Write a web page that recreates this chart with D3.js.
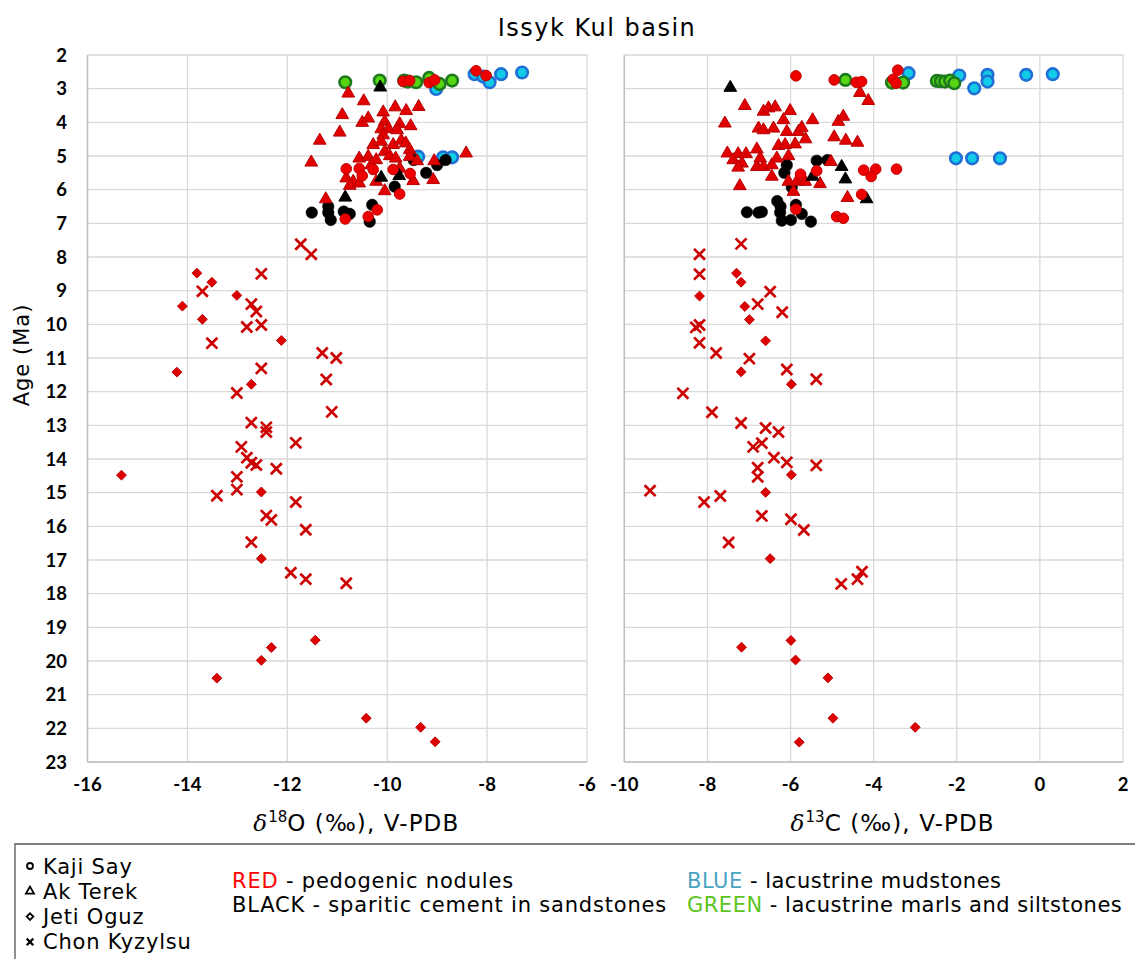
<!DOCTYPE html>
<html lang="en">
<head>
<meta charset="UTF-8" />
<title>Issyk Kul basin</title>
<script src="https://d3js.org/d3.v7.min.js"></script>
<style>
  body { margin: 0; background: #fff; }
  svg { display: block; }
  .tick-lbl { font-family: Lato, "Liberation Sans", sans-serif; font-weight: bold; font-size: 18.5px; fill: #000; }
  .lbl { font-family: "DejaVu Sans", Verdana, sans-serif; fill: #000; }
</style>
</head>
<body>
<svg width="1135" height="959"></svg>
<script>
// ---- data: [value, age (Ma)] ----
// delta 18O panel
const o18Blue = [[-9.02,3.01],[-8.25,2.57],[-8.08,2.64],[-7.95,2.81],[-7.72,2.57],[-7.30,2.52],[-9.38,5.02],[-8.88,5.04],[-8.70,5.04]];
const o18Green = [[-10.84,2.81],[-10.15,2.76],[-9.66,2.76],[-9.59,2.79],[-9.42,2.81],[-9.16,2.68],[-8.95,2.86],[-8.70,2.76]];
const o18RedCircle = [[-8.22,2.47],[-8.02,2.61],[-9.68,2.78],[-9.55,2.76],[-9.16,2.82],[-9.05,2.74],
  [-10.82,5.38],[-10.56,5.37],[-10.50,5.59],[-10.28,5.40],[-9.88,5.40],[-9.54,5.52],[-9.75,6.13],[-10.20,6.60],[-10.38,6.80],[-10.84,6.87]];
const o18BlackCircle = [[-11.51,6.68],[-11.18,6.50],[-11.18,6.68],[-11.13,6.90],[-10.87,6.65],[-10.75,6.72],[-10.30,6.45],[-10.35,6.95],
  [-9.85,5.91],[-9.22,5.50],[-9.00,5.27],[-8.83,5.12],[-9.47,5.12]];
const o18RedTriangle = [[-10.78,3.14],[-10.47,3.37],[-10.90,3.78],[-10.95,4.30],[-11.35,4.54],[-11.52,5.19],[-10.50,4.01],[-10.38,3.88],
  [-10.08,3.70],[-9.84,3.55],[-9.62,3.66],[-9.37,3.54],[-10.05,3.98],[-9.75,4.05],[-9.53,4.11],[-10.12,4.20],[-9.97,4.20],[-9.80,4.23],
  [-10.08,4.38],[-10.28,4.67],[-10.12,4.57],[-9.88,4.67],[-9.72,4.54],[-9.63,4.62],[-10.05,4.87],[-9.55,4.82],[-10.56,5.07],[-10.38,5.02],
  [-10.22,5.12],[-9.95,5.00],[-9.83,5.07],[-9.55,5.02],[-9.40,5.15],[-9.06,5.15],[-8.42,4.92],[-10.82,5.66],[-10.68,5.76],[-10.75,5.88],
  [-10.56,5.81],[-10.22,5.76],[-9.48,5.74],[-9.08,5.71],[-10.05,6.04],[-11.23,6.28],[-10.32,5.27],[-9.75,5.37]];
const o18BlackTriangle = [[-10.14,2.96],[-10.12,5.64],[-9.76,5.59],[-10.84,6.23]];
const o18Diamond = [[-13.81,8.48],[-13.51,8.75],[-13.01,9.14],[-14.10,9.46],[-13.70,9.85],[-12.12,10.48],[-14.21,11.42],[-12.72,11.78],
  [-15.32,14.48],[-12.52,14.98],[-12.52,16.96],[-11.44,19.38],[-12.32,19.60],[-12.52,19.98],[-13.41,20.51],[-10.42,21.70],[-9.33,21.97],[-9.04,22.40]];
const o18Cross = [[-11.73,7.62],[-11.52,7.92],[-12.52,8.50],[-13.70,9.02],[-12.72,9.40],[-12.62,9.62],[-12.81,10.08],[-12.52,10.02],
  [-13.51,10.56],[-11.30,10.85],[-11.02,11.00],[-12.52,11.31],[-11.22,11.64],[-13.01,12.04],[-11.11,12.60],[-12.72,12.92],[-12.42,13.06],
  [-12.42,13.20],[-11.83,13.52],[-12.92,13.64],[-12.81,13.96],[-12.72,14.11],[-12.62,14.18],[-12.22,14.29],[-13.01,14.53],[-13.01,14.91],
  [-13.41,15.09],[-11.83,15.28],[-12.42,15.68],[-12.32,15.81],[-11.63,16.10],[-12.72,16.47],[-11.93,17.38],[-11.63,17.57],[-10.82,17.69]];

// delta 13C panel
const c13Blue = [[-3.16,2.54],[-1.94,2.61],[-1.26,2.59],[-1.26,2.79],[-1.58,2.99],[-0.33,2.59],[0.31,2.57],[-2.02,5.07],[-1.63,5.07],[-0.96,5.07]];
const c13Green = [[-4.68,2.74],[-3.56,2.82],[-3.29,2.82],[-2.48,2.77],[-2.38,2.78],[-2.28,2.79],[-2.16,2.76],[-2.06,2.84]];
const c13RedCircle = [[-5.87,2.62],[-4.95,2.74],[-4.42,2.81],[-4.29,2.79],[-3.42,2.45],[-3.53,2.72],[-3.46,2.84],
  [-5.37,5.44],[-5.76,5.54],[-4.24,5.42],[-3.95,5.39],[-4.06,5.61],[-3.45,5.39],[-4.29,6.14],[-5.87,6.58],[-4.89,6.80],[-4.73,6.85]];
const c13BlackCircle = [[-7.05,6.67],[-6.77,6.68],[-6.69,6.66],[-6.32,6.34],[-6.24,6.50],[-6.25,6.68],[-6.21,6.92],[-5.99,6.90],
  [-5.87,6.45],[-5.73,6.72],[-5.51,6.95],[-6.09,5.27],[-6.15,5.50],[-5.37,5.14],[-5.11,5.12],[-5.97,5.93]];
const c13RedTriangle = [[-7.10,3.51],[-7.58,4.03],[-6.65,3.68],[-6.53,3.58],[-6.37,3.55],[-6.01,3.66],[-6.17,3.93],[-5.47,3.93],
  [-6.77,4.18],[-6.65,4.23],[-6.41,4.18],[-6.09,4.28],[-5.81,4.28],[-5.73,4.16],[-5.64,4.50],[-6.29,4.70],[-6.13,4.67],[-5.89,4.65],
  [-6.81,4.80],[-7.52,4.92],[-7.26,4.94],[-7.07,4.94],[-7.38,5.12],[-7.17,5.22],[-7.26,5.34],[-6.81,5.32],[-6.73,5.07],[-6.65,5.32],
  [-6.45,5.27],[-6.33,5.07],[-6.05,5.00],[-6.45,5.61],[-7.22,5.89],[-6.05,5.76],[-5.93,6.06],[-5.85,5.76],[-5.65,5.76],[-5.29,5.83],
  [-5.03,5.17],[-4.95,4.44],[-4.85,3.98],[-4.73,3.83],[-4.67,4.54],[-4.39,4.60],[-4.63,6.24],[-4.33,3.12],[-4.13,3.36]];
const c13BlackTriangle = [[-7.45,2.97],[-4.77,5.32],[-4.68,5.69],[-4.17,6.28],[-5.47,5.61]];
const c13Diamond = [[-7.30,8.48],[-7.19,8.75],[-8.19,9.16],[-7.10,9.47],[-6.99,9.86],[-6.60,10.49],[-7.19,11.41],[-5.98,11.78],
  [-5.98,14.47],[-6.60,14.99],[-6.49,16.96],[-5.99,19.39],[-7.18,19.59],[-5.88,19.97],[-5.10,20.50],[-4.98,21.70],[-3.00,21.97],[-5.79,22.41]];
const c13Cross = [[-7.19,7.61],[-8.19,7.92],[-8.19,8.51],[-6.49,9.03],[-6.79,9.40],[-6.20,9.64],[-8.19,10.02],[-8.28,10.09],
  [-8.19,10.55],[-7.79,10.85],[-6.99,11.02],[-6.09,11.34],[-5.38,11.63],[-8.59,12.05],[-7.89,12.61],[-7.19,12.93],[-6.60,13.08],
  [-6.29,13.20],[-6.69,13.53],[-6.90,13.64],[-6.40,13.96],[-6.09,14.10],[-5.38,14.19],[-6.79,14.26],[-6.79,14.53],[-9.38,14.94],
  [-7.69,15.10],[-8.08,15.28],[-6.69,15.69],[-5.99,15.79],[-5.68,16.11],[-7.49,16.48],[-4.28,17.35],[-4.39,17.57],[-4.78,17.71]];

const ageTicks = d3.range(2, 24);
const o18Ticks = [-16, -14, -12, -10, -8, -6];
const c13Ticks = [-10, -8, -6, -4, -2, 0, 2];

const sites = ['Kaji Say', 'Ak Terek', 'Jeti Oguz', 'Chon Kyzylsu'];
const lithology = [
  { key: 'RED', color: '#ff0000', text: ' - pedogenic nodules' },
  { key: 'BLACK', color: '#000000', text: ' - sparitic cement in sandstones' },
  { key: 'BLUE', color: '#4aa3bf', text: ' - lacustrine mudstones' },
  { key: 'GREEN', color: '#5cc41c', text: ' - lacustrine marls and siltstones' }
];

// ---- layout ----
const svg = d3.select('svg');
const plotTop = 55, plotBottom = 762;
const y = d3.scaleLinear().domain([2, 23]).range([plotTop, plotBottom]);

const panels = [
  { x: d3.scaleLinear().domain([-16, -6]).range([87.5, 587]), ticks: o18Ticks, iso: '18', el: 'O',
    series: [o18Blue, o18Green, o18Diamond, o18Cross, o18BlackCircle, o18RedTriangle, o18BlackTriangle, o18RedCircle] },
  { x: d3.scaleLinear().domain([-10, 2]).range([624.3, 1123]), ticks: c13Ticks, iso: '13', el: 'C',
    series: [c13Blue, c13Green, c13Diamond, c13Cross, c13BlackCircle, c13RedTriangle, c13BlackTriangle, c13RedCircle] }
];

// marker styles in draw order (matches series order above)
const styles = [
  { type: d3.symbolCircle, size: 105, fill: '#12cbe6', stroke: '#1f6fd6', sw: 2.6 },
  { type: d3.symbolCircle, size: 105, fill: '#55d513', stroke: '#1e7a1e', sw: 2.6 },
  { type: d3.symbolDiamond2, size: 62, fill: '#dd0000', stroke: '#c00000', sw: 1 },
  { type: d3.symbolTimes, size: 80, fill: 'none', stroke: '#cc0000', sw: 2.7 },
  { type: d3.symbolCircle, size: 105, fill: '#000', stroke: '#000', sw: 0.5 },
  { type: d3.symbolTriangle, size: 70, fill: '#e00000', stroke: '#b80000', sw: 1 },
  { type: d3.symbolTriangle, size: 70, fill: '#000', stroke: '#000', sw: 1 },
  { type: d3.symbolCircle, size: 88, fill: '#ee0000', stroke: '#c00000', sw: 1 }
];

// title
svg.append('text').attr('class', 'lbl').attr('x', 597).attr('y', 36)
  .attr('text-anchor', 'middle').style('font-size', '24px').style('letter-spacing', '1.5px')
  .text('Issyk Kul basin');

// y label
svg.append('text').attr('class', 'lbl')
  .attr('transform', `translate(29,355) rotate(-90)`)
  .attr('text-anchor', 'middle').style('font-size', '21px').style('letter-spacing', '1px')
  .text('Age (Ma)');

// y tick labels
svg.append('g').selectAll('text').data(ageTicks).enter().append('text')
  .attr('class', 'tick-lbl').attr('x', 67).attr('y', d => y(d) + 6.5)
  .attr('text-anchor', 'end').text(d => d);

panels.forEach(p => {
  const g = svg.append('g');
  const [x0, x1] = p.x.range();

  // grid
  g.selectAll('.hg').data(ageTicks).enter().append('line')
    .attr('x1', x0).attr('x2', x1).attr('y1', d => y(d)).attr('y2', d => y(d))
    .style('stroke', '#d9d9d9').style('stroke-width', 1.3);
  g.selectAll('.vg').data(p.ticks).enter().append('line')
    .attr('x1', d => p.x(d)).attr('x2', d => p.x(d)).attr('y1', plotTop).attr('y2', plotBottom)
    .style('stroke', '#d9d9d9').style('stroke-width', 1.3);

  // axis lines
  g.append('line').attr('x1', x0).attr('x2', x0).attr('y1', plotTop).attr('y2', plotBottom)
    .style('stroke', '#bfbfbf').style('stroke-width', 1.5);
  g.append('line').attr('x1', x0).attr('x2', x1).attr('y1', plotBottom).attr('y2', plotBottom)
    .style('stroke', '#bfbfbf').style('stroke-width', 1.5);

  // x tick labels
  g.selectAll('.xt').data(p.ticks).enter().append('text')
    .attr('class', 'tick-lbl').attr('x', d => p.x(d)).attr('y', 791)
    .attr('text-anchor', 'middle').text(d => d);

  // x label
  const xl = g.append('text').attr('class', 'lbl').attr('x', (x0 + x1) / 2 + 19).attr('y', 831)
    .attr('text-anchor', 'middle').style('font-size', '23px').style('letter-spacing', '1.1px');
  xl.append('tspan').style('font-family', '"DejaVu Serif", serif').style('font-style', 'italic').text('δ');
  xl.append('tspan').attr('dy', -9).style('font-size', '15px').style('letter-spacing', '0px').text(p.iso);
  xl.append('tspan').attr('dy', 9).text(p.el + ' (‰), V-PDB');

  // points
  p.series.forEach((data, i) => {
    const s = styles[i];
    g.selectAll(null).data(data).enter().append('path')
      .attr('d', d3.symbol().type(s.type).size(s.size))
      .attr('transform', d => `translate(${p.x(d[0])},${y(d[1])})`)
      .style('fill', s.fill).style('stroke', s.stroke).style('stroke-width', s.sw);
  });
});

// legend box
svg.append('path').attr('d', 'M15,959V844H1135')
  .style('fill', 'none').style('stroke', '#555').style('stroke-width', 1.3);

const legendSymbols = [d3.symbolCircle, d3.symbolTriangle, d3.symbolDiamond2, d3.symbolTimes];
const lg = svg.append('g');
sites.forEach((s, i) => {
  const yy = 866 + i * 25.3;
  lg.append('path').attr('d', d3.symbol().type(legendSymbols[i]).size(i === 3 ? 30 : 28)())
    .attr('transform', `translate(30,${yy})`)
    .style('fill', 'none').style('stroke', '#000').style('stroke-width', i === 3 ? 2.2 : 1.8);
  lg.append('text').attr('class', 'lbl').attr('x', 43).attr('y', yy + 7.5)
    .style('font-size', '21px').style('letter-spacing', '0.8px').text(s);
});

lithology.forEach((l, i) => {
  const xx = i < 2 ? 232 : 687;
  const yy = i % 2 === 0 ? 888 : 912;
  const t = lg.append('text').attr('class', 'lbl').attr('x', xx).attr('y', yy)
    .style('font-size', '21px').style('letter-spacing', i < 2 ? '0.8px' : '0.5px');
  t.append('tspan').style('fill', l.color).text(l.key);
  t.append('tspan').text(l.text);
});
</script>
</body>
</html>
